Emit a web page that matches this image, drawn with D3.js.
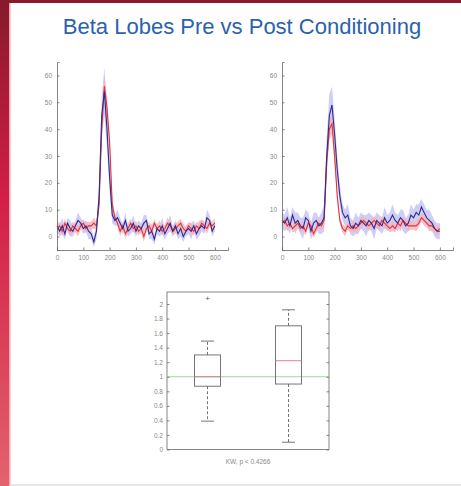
<!DOCTYPE html>
<html><head><meta charset="utf-8">
<script src="https://cdn.jsdelivr.net/npm/d3@7"></script>
<style>body{margin:0;background:#fff;overflow:hidden}svg{display:block}</style>
</head><body>
<script>
// ---------- data ----------
const timeX = d3.range(0, 601, 10);
const preBlue = [4,2,4,1,5,3,2,4,6,5,3,4,2,1,-2,2,15,45,54,40,22,8,6,7,5,3,6,2,3,5,2,4,3,5,6,1,2,-1,3,2,4,1,3,5,2,4,1,3,0,2,3,2,4,1,3,4,3,7,6,2,4];
const preRed  = [3,4,2,5,3,2,4,3,2,4,5,3,4,4,5,4,12,40,56,48,35,12,7,5,2,4,1,3,5,3,4,2,3,0,3,4,2,5,3,4,2,3,5,4,2,3,4,5,3,2,4,3,2,4,3,5,4,3,5,4,5];
const preBlueErr = [2,2,3,2,2,3,2,2,3,2,2,2,3,2,2,3,5,7,9,7,5,3,2,3,2,2,3,2,2,3,2,2,2,3,2,2,3,2,2,2,3,2,2,3,2,2,2,3,2,2,2,3,2,2,3,2,2,3,2,2,2];
const preRedErr  = [1.5,1.5,2,1.5,1.5,2,1.5,1.5,2,1.5,1.5,2,1.5,1.5,2,1.5,3,4,5,4,3,2,1.5,1.5,2,1.5,1.5,2,1.5,1.5,2,1.5,1.5,2,1.5,1.5,2,1.5,1.5,2,1.5,1.5,2,1.5,1.5,2,1.5,1.5,2,1.5,1.5,2,1.5,1.5,2,1.5,1.5,2,1.5,1.5,2];
const postBlue = [6,5,7,4,8,5,6,4,3,7,6,2,5,6,4,5,7,30,45,49,38,25,15,9,7,8,4,3,5,4,6,5,4,6,5,3,6,5,4,7,5,6,8,6,5,7,6,4,5,8,7,9,8,11,9,7,6,5,3,2,2];
const postRed  = [5,6,4,5,3,4,5,3,4,2,5,4,1,3,5,4,6,28,40,42,30,15,6,3,2,4,3,4,3,4,5,6,5,4,5,6,5,4,6,5,4,3,4,3,5,4,6,5,4,4,4,4,5,7,6,5,4,4,3,2,3];
const postBlueErr = [3,3,4,3,3,4,3,3,4,3,3,3,4,3,3,4,5,7,8,7,6,5,4,3,3,4,3,3,4,3,3,3,4,3,3,4,3,3,3,4,3,3,4,3,3,3,4,3,3,4,3,3,4,3,3,3,4,3,3,3,3];
const postRedErr  = [1.5,1.5,2,1.5,1.5,2,1.5,1.5,2,1.5,1.5,2,1.5,1.5,2,1.5,3,4,4,4,3,2,1.5,1.5,2,1.5,1.5,2,1.5,1.5,2,1.5,1.5,2,1.5,1.5,2,1.5,1.5,2,1.5,1.5,2,1.5,1.5,2,1.5,1.5,2,1.5,1.5,2,1.5,1.5,2,1.5,1.5,2,1.5,1.5,2];
const traceYTicks = [0,10,20,30,40,50,60];
const traceXTicks = [0,100,200,300,400,500,600];
const boxGroups = [1, 2];
const boxStats = [
  {min:0.39, q1:0.87, med:1.0, q3:1.3, max:1.49, outliers:[2.08]},
  {min:0.1, q1:0.9, med:1.22, q3:1.7, max:1.92, outliers:[]}
];
const boxYTicks = [0,0.2,0.4,0.6,0.8,1,1.2,1.4,1.6,1.8,2];
const refLine = 1;
const titleText = "Beta Lobes Pre vs Post Conditioning";
const statText = "KW, p < 0.4266";

// ---------- frame ----------
const W = 461, H = 486;
const svg = d3.select("body").append("svg").attr("width", W).attr("height", H);
const defs = svg.append("defs");
const lg = defs.append("linearGradient").attr("id","sideGrad").attr("x1",0).attr("y1",0).attr("x2",0).attr("y2",1);
lg.append("stop").attr("offset","0%").attr("stop-color","#861a2c");
lg.append("stop").attr("offset","40%").attr("stop-color","#d21e45");
lg.append("stop").attr("offset","100%").attr("stop-color","#e2636d");
svg.append("rect").attr("x",0).attr("y",0).attr("width",W).attr("height",3).attr("fill","#8a1b2d");
svg.append("rect").attr("x",0).attr("y",0).attr("width",9).attr("height",H).attr("fill","url(#sideGrad)");
svg.append("rect").attr("x",9).attr("y",3).attr("width",1.5).attr("height",H).attr("fill","#f2a6b0");
svg.append("rect").attr("x",10.5).attr("y",484).attr("width",W).attr("height",2).attr("fill","#e6e6e6");

svg.append("text").attr("x",242).attr("y",34).attr("text-anchor","middle")
  .attr("font-family","Liberation Sans, Arial, sans-serif").attr("font-size",22)
  .attr("fill","#2b62ad").text(titleText);

const axisCol = "#666";
function styleAxis(g){
  g.selectAll("path,line").attr("stroke", axisCol).attr("stroke-width",0.8);
  g.selectAll("text").attr("fill","#888").attr("font-size",6.5).attr("font-family","Liberation Sans, Arial, sans-serif");
}

function tracePanel(left, topY, bottomY, blue, red, blueErr, redErr){
  const x = d3.scaleLinear().domain([0, 650]).range([left, left + 171]);
  const y = d3.scaleLinear().domain([-5, 65]).range([bottomY, topY]);
  const g = svg.append("g");
  const band = (vals, errs) => d3.area().x((d,i)=>x(timeX[i])).y0((d,i)=>y(vals[i]-errs[i])).y1((d,i)=>y(vals[i]+errs[i]));
  const line = vals => d3.line().x((d,i)=>x(timeX[i])).y((d,i)=>y(vals[i]));
  g.append("path").datum(blue).attr("d", band(blue, blueErr)).attr("fill","#b9b9f2").attr("opacity",0.7);
  g.append("path").datum(red).attr("d", band(red, redErr)).attr("fill","#f6b3b8").attr("opacity",0.8);
  g.append("path").datum(red).attr("d", line(red)).attr("fill","none").attr("stroke","#e2323c").attr("stroke-width",1.1);
  g.append("path").datum(blue).attr("d", line(blue)).attr("fill","none").attr("stroke","#2d2b8e").attr("stroke-width",1.1);
  const ax = g.append("g").attr("transform",`translate(0,${bottomY})`)
    .call(d3.axisBottom(x).tickValues(traceXTicks).tickSize(-2.5).tickPadding(5).tickFormat(d3.format("d")));
  styleAxis(ax);
  const ay = g.append("g").attr("transform",`translate(${left},0)`)
    .call(d3.axisLeft(y).tickValues(traceYTicks).tickSize(-2.5).tickPadding(5).tickFormat(d3.format("d")));
  styleAxis(ay);
}
tracePanel(57, 62, 250, preBlue, preRed, preBlueErr, preRedErr);
tracePanel(282, 62, 250, postBlue, postRed, postBlueErr, postRedErr);

// ---------- box plot ----------
const bx = d3.scaleLinear().domain([0.5, 2.5]).range([167, 329]);
const by = d3.scaleLinear().domain([0, 2.165]).range([449.5, 292]);
const bg = svg.append("g");
bg.append("rect").attr("x",167).attr("y",292).attr("width",162).attr("height",157.5)
  .attr("fill","none").attr("stroke",axisCol).attr("stroke-width",0.8);
bg.append("line").attr("x1",bx(0.5)).attr("x2",bx(2.5)).attr("y1",by(refLine)).attr("y2",by(refLine))
  .attr("stroke","#9bd89b").attr("stroke-width",1);
const bw = 0.32;
boxStats.forEach((s, i) => {
  const c = boxGroups[i];
  const col = "#666";
  bg.append("line").attr("x1",bx(c)).attr("x2",bx(c)).attr("y1",by(s.q3)).attr("y2",by(s.max))
    .attr("stroke",col).attr("stroke-dasharray","3,2").attr("stroke-width",0.9);
  bg.append("line").attr("x1",bx(c)).attr("x2",bx(c)).attr("y1",by(s.q1)).attr("y2",by(s.min))
    .attr("stroke",col).attr("stroke-dasharray","3,2").attr("stroke-width",0.9);
  [s.min, s.max].forEach(v => bg.append("line").attr("x1",bx(c-bw/4)).attr("x2",bx(c+bw/4))
    .attr("y1",by(v)).attr("y2",by(v)).attr("stroke",col).attr("stroke-width",0.9));
  bg.append("rect").attr("x",bx(c-bw/2)).attr("width",bx(c+bw/2)-bx(c-bw/2))
    .attr("y",by(s.q3)).attr("height",by(s.q1)-by(s.q3))
    .attr("fill","none").attr("stroke",col).attr("stroke-width",0.9);
  bg.append("line").attr("x1",bx(c-bw/2)).attr("x2",bx(c+bw/2)).attr("y1",by(s.med)).attr("y2",by(s.med))
    .attr("stroke","#d9737a").attr("stroke-width",0.9);
  s.outliers.forEach(v => bg.append("text").attr("x",bx(c)).attr("y",by(v)+2.5).attr("text-anchor","middle")
    .attr("font-size",8).attr("fill","#555").attr("font-family","Liberation Sans, Arial, sans-serif").text("+"));
});
const bay = bg.append("g").attr("transform","translate(167,0)")
  .call(d3.axisLeft(by).tickValues(boxYTicks).tickSize(-2.5).tickPadding(4).tickFormat(d => d3.format("")(d)));
styleAxis(bay); bay.select(".domain").remove();
const bay2 = bg.append("g").attr("transform","translate(329,0)")
  .call(d3.axisRight(by).tickValues(boxYTicks).tickSize(-2.5).tickFormat(""));
styleAxis(bay2); bay2.select(".domain").remove();
bg.append("text").attr("x",248).attr("y",464).attr("text-anchor","middle")
  .attr("font-size",6.5).attr("fill","#888").attr("font-family","Liberation Sans, Arial, sans-serif").text(statText);
</script>
</body></html>
